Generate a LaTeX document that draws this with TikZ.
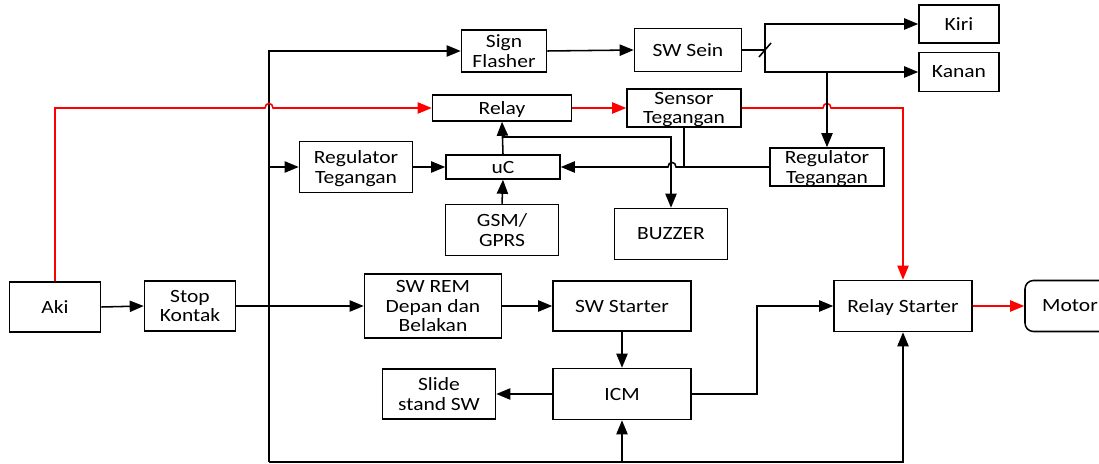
\documentclass[tikz,border=0pt]{standalone}
\usepackage{fontspec}
\setmainfont{Carlito}[FakeStretch=1.15]
\usetikzlibrary{arrows.meta}

\tikzset{
  blk/.style 2 args={draw, line width=1.1pt, align=center,
    minimum width=#1*0.025cm, minimum height=#2*0.025cm, inner sep=1pt,
    text depth=0pt, font=\fontsize{13.3}{14}\selectfont},
  tip/.style={line width=1.1pt, -{Triangle[length=10pt,width=8pt]}},
  ln/.style={line width=1.1pt},
  redln/.style={line width=1.1pt, red},
}

\begin{document}
\begin{tikzpicture}[x=0.025cm, y=-0.025cm]
      \useasboundingbox (0,0) rectangle (1099,464);

      % Blocks
      \node[blk={91}{50}] (aki) at (55,307) {Aki};
      \node[blk={91}{50}] (stop) at (190,306) {Stop\\Kontak};
      \node[blk={85}{42}] (flasher) at (504,51) {Sign\\Flasher};
      \node[blk={107}{43}] (sein) at (688,50) {SW Sein};
      \node[blk={80}{38}] (kiri) at (959,24) {Kiri};
      \node[blk={80}{39}] (kanan) at (959,72) {Kanan};
      \node[blk={139}{26}] (relay) at (502,108) {Relay};
      \node[blk={114}{38}] (sensor) at (684,108) {Sensor\\Tegangan};
      \node[blk={113}{51}] (reg1) at (356,167) {Regulator\\Tegangan};
      \node[blk={114}{24}] (uc) at (503,167) {uC};
      \node[blk={113}{51}] (gsm) at (502,230) {GSM/\\GPRS};
      \node[blk={113}{51}] (buzzer) at (671,234) {BUZZER};
      \node[blk={114}{38}] (reg2) at (827,167) {Regulator\\Tegangan};
      \node[blk={137}{64}] (srem) at (433,306) {SW REM\\Depan dan\\Belakan};
      \node[blk={138}{50}] (sstart) at (622,306) {SW Starter};
      \node[blk={138}{51}] (icm) at (622,394) {ICM};
      \node[blk={113}{50}] (slide) at (439,394) {Slide\\stand SW};
      \node[blk={138}{51}] (rstart) at (903,306) {Relay Starter};
      \node[blk={90}{51}, rounded corners=6pt] (motor) at (1070,306) {Motor};

      % Bus and split points
      \coordinate (bb) at (269,462);
      \coordinate (sp) at (765,50);
      \coordinate (j1) at (503,137);

      % Supply bus
      \draw[tip] (bb) |- (flasher.west);
      \draw[tip] (bb) -| (rstart.south);
      \draw[tip] (icm.south |- bb) -- (icm.south);
      \draw[tip] (reg1.west -| bb) -- (reg1.west);

      % Battery line (red)
      \draw[redln, -{Triangle[length=10pt,width=8pt]}] (aki.north) -- (aki.north |- relay.west)
        -- (265,108) .. controls (265,102) and (273,102) .. (273,108) -- (relay.west);
      \draw[redln, -{Triangle[length=10pt,width=8pt]}] (relay.east) -- (sensor.west);
      \draw[redln, -{Triangle[length=10pt,width=8pt]}] (sensor.east)
        -- (823,108) .. controls (823,102) and (831,102) .. (831,108)
        -- (rstart.north |- sensor.east) -- (rstart.north);
      \draw[redln, -{Triangle[length=10pt,width=8pt]}] (rstart.east) -- (motor.west);

      % Turn signal
      \draw[tip] (flasher.east) -- (sein.west);
      \draw[ln] (sein.east) -- (sp);
      \draw[tip] (sp) |- (kiri.west);
      \draw[tip] (sp) |- (kanan.west);
      \draw[ln] ([shift={(-6,7)}]sp) -- ([shift={(6,-7)}]sp);
      \draw[tip] (reg2.north |- kanan.west) -- (reg2.north);

      % Controller
      \draw[tip] (reg1.east) -- (uc.west);
      \draw[tip] (gsm.north) -- (uc.south);
      \draw[tip] (uc.north) -- (relay.south);
      \draw[tip] (j1) -| (buzzer.north);
      \draw[tip] (reg2.west) -- (676,167) .. controls (676,161) and (668,161) .. (668,167) -- (uc.east);
      \draw[ln] (sensor.south) -- (sensor.south |- uc.east);

      % Starter chain
      \draw[tip] (aki.east) -- (stop.west);
      \draw[tip] (stop.east) -- (srem.west);
      \draw[tip] (srem.east) -- (sstart.west);
      \draw[tip] (sstart.south) -- (icm.north);
      \draw[tip] (icm.west) -- (slide.east);
      \draw[tip] (icm.east) -- ++(65,0) |- (rstart.west);

    \end{tikzpicture}
\end{document}
